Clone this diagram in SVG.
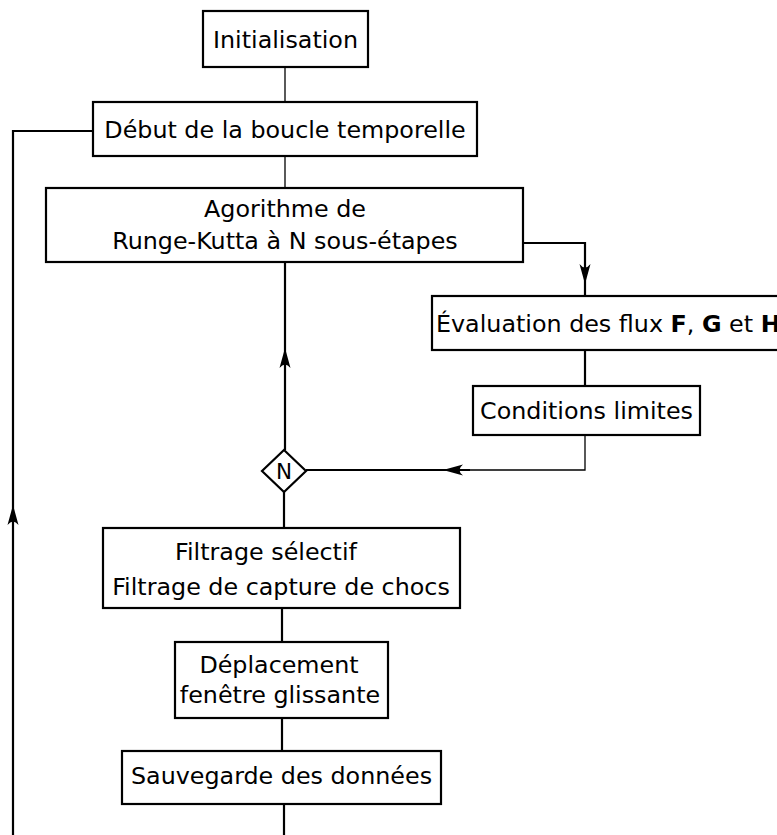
<svg xmlns="http://www.w3.org/2000/svg" xmlns:xlink="http://www.w3.org/1999/xlink" width="777" height="835" viewBox="0 0 777 835">
<style>
.box{fill:#fff;stroke:#000;stroke-width:2.2}
.t{font-family:"DejaVu Sans",sans-serif;font-size:23.8px;fill:#000}
.c{text-anchor:middle}
.thin{fill:none;stroke:#000;stroke-width:1.3}
.thick{fill:none;stroke:#000;stroke-width:2.2}
</style>
<defs>
<path id="ah" d="M0 0 L-5.5 -20 Q0 -13 5.5 -20 Z" fill="#000"/>
</defs>
<g id="connectors">
<line class="thin" x1="285" y1="67" x2="285" y2="102"/>
<line class="thin" x1="285" y1="156" x2="285" y2="188"/>
<line class="thick" x1="285" y1="262" x2="285" y2="450"/>
<polyline class="thick" points="523,243 585,243 585,296"/>
<line class="thick" x1="585" y1="350" x2="585" y2="386"/>
<polyline class="thin" points="585,435 585,470 306,470"/>
<line class="thick" x1="306" y1="470" x2="470" y2="470"/>
<line class="thick" x1="284" y1="492" x2="284" y2="528"/>
<line class="thick" x1="282" y1="608" x2="282" y2="642"/>
<line class="thick" x1="282" y1="718" x2="282" y2="751"/>
<line class="thick" x1="284" y1="804" x2="284" y2="835"/>
<polyline class="thick" points="93,131 13,131 13,835"/>
<use xlink:href="#ah" transform="translate(585,284)"/>
<use xlink:href="#ah" transform="translate(443,470) rotate(90)"/>
<use xlink:href="#ah" transform="translate(285,348) rotate(180)"/>
<use xlink:href="#ah" transform="translate(13,505) rotate(180)"/>
</g>
<g id="init">
<rect class="box" x="203" y="11" width="165" height="56"/>
<text class="t c" x="285.5" y="48">Initialisation</text>
</g>
<g id="debut">
<rect class="box" x="93" y="102" width="384" height="54"/>
<text class="t c" x="285" y="138">Début de la boucle temporelle</text>
</g>
<g id="rk">
<rect class="box" x="46" y="188" width="477" height="74"/>
<text class="t c" x="285" y="217">Agorithme de</text>
<text class="t c" x="285" y="249">Runge-Kutta à N sous-étapes</text>
</g>
<g id="eval">
<rect class="box" x="432" y="296" width="360" height="54"/>
<text class="t" x="436" y="332">Évaluation des flux <tspan font-weight="bold">F</tspan>, <tspan font-weight="bold">G</tspan> et <tspan font-weight="bold">H</tspan></text>
</g>
<g id="cl">
<rect class="box" x="473" y="386" width="227" height="49"/>
<text class="t c" x="586.5" y="419">Conditions limites</text>
</g>
<g id="decision">
<polygon class="box" points="284,450 306,471 284,492 262,471"/>
<text class="t c" x="284" y="479" style="font-size:21.5px">N</text>
</g>
<g id="filtrage">
<rect class="box" x="103" y="528" width="357" height="80"/>
<text class="t c" x="266" y="560">Filtrage sélectif</text>
<text class="t c" x="281" y="595">Filtrage de capture de chocs</text>
</g>
<g id="deplacement">
<rect class="box" x="175" y="642" width="213" height="76"/>
<text class="t c" x="279" y="673">Déplacement</text>
<text class="t c" x="280" y="703">fenêtre glissante</text>
</g>
<g id="sauvegarde">
<rect class="box" x="122" y="751" width="319" height="53"/>
<text class="t c" x="281.5" y="784">Sauvegarde des données</text>
</g>
</svg>
